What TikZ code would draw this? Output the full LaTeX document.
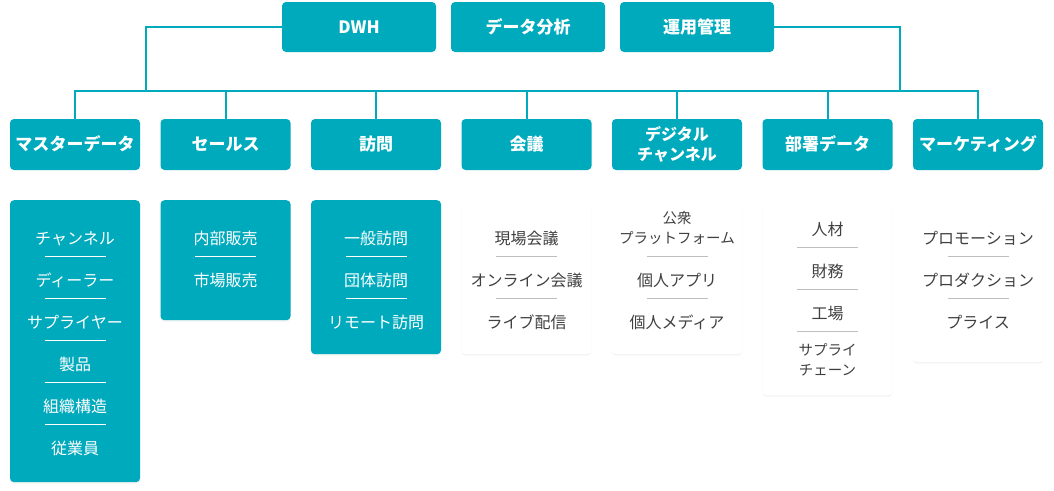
\documentclass[tikz,border=0pt]{standalone}
\usepackage{fontspec}
\newfontfamily\jp{Noto Sans CJK JP}
\usetikzlibrary{shadows}
\definecolor{teal1}{RGB}{0,170,189}
\definecolor{ink}{RGB}{64,64,64}
\definecolor{rule}{RGB}{190,190,190}

\begin{document}
\begin{tikzpicture}[x=1pt, y=-1pt,
    top/.style={fill=teal1, text=white, rounded corners=4pt, minimum width=154pt, minimum height=50pt,
      font=\jp\bfseries\fontsize{17}{20}\selectfont, text height=13.4pt, text depth=0.5pt},
    head/.style={fill=teal1, text=white, rounded corners=4pt, minimum width=130pt, minimum height=51pt,
      align=center, font=\jp\bfseries\fontsize{17}{20}\selectfont, text height=13.4pt, text depth=0.5pt},
    twohead/.style={head, font=\jp\bfseries\fontsize{16}{20}\selectfont, text height=32.6pt},
    box/.style={rounded corners=4pt, minimum width=130pt, anchor=north,
      drop shadow={shadow xshift=0pt, shadow yshift=-1.5pt, opacity=0.09}},
    tealbox/.style={box, fill=teal1},
    whitebox/.style={box, fill=white},
    item/.style={text=white, align=center, font=\jp\fontsize{16}{19.5}\selectfont, text height=12.6pt, text depth=0.4pt},
    gitem/.style={item, text=ink},
    small/.style={font=\jp\fontsize{14.5}{19.5}\selectfont, text height=30.9pt, text depth=0.4pt},
    tdiv/.style={draw=white, line width=1pt},
    gdiv/.style={draw=rule, line width=1pt},
    link/.style={draw=teal1, line width=2pt}]
  \useasboundingbox (0,0) rectangle (1054,490);

  % top row
  \node[top] (dwh) at (359,27) {DWH};
  \node[top] (ana) at (528,27) {データ分析};
  \node[top] (ops) at (697,27) {運用管理};

  % headers
  \node[head] (h1) at (75,144.5) {マスターデータ};
  \node[head] (h2) at (225.5,144.5) {セールス};
  \node[head] (h3) at (376,144.5) {訪問};
  \node[head] (h4) at (526.5,144.5) {会議};
  \node[twohead] (h5) at (677,144.5) {デジタル\\チャンネル};
  \node[head] (h6) at (827.5,144.5) {部署データ};
  \node[head] (h7) at (978,144.5) {マーケティング};

  \coordinate (bus) at (0,91);
  \coordinate (busl) at (146,91);
  \coordinate (busr) at (900,91);

  \draw[link] (dwh.west) -| (busl);
  \draw[link] (ops.east) -| (busr);
  \draw[link] (h1.north) -- (h1.north |- bus) -- (h7.north |- bus) -- (h7.north);
  \draw[link] (h2.north |- bus) -- (h2.north);
  \draw[link] (h3.north |- bus) -- (h3.north);
  \draw[link] (h4.north |- bus) -- (h4.north);
  \draw[link] (h5.north |- bus) -- (h5.north);
  \draw[link] (h6.north |- bus) -- (h6.north);

  % lists
  \node[tealbox, minimum height=282pt] (b1) at (75,200) {};
  \node[tealbox, minimum height=120pt] (b2) at (225.5,200) {};
  \node[tealbox, minimum height=154pt] (b3) at (376,200) {};
  \node[whitebox, minimum height=154pt] (b4) at (526.5,200) {};
  \node[whitebox, minimum height=154pt] (b5) at (677,200) {};
  \node[whitebox, minimum height=195pt] (b6) at (827.5,200) {};
  \node[whitebox, minimum height=162pt] (b7) at (978,200) {};

  \node[item] (m1) at (75,238) {チャンネル};
  \node[item] (m2) at (75,280) {ディーラー};
  \node[item] (m3) at (75,322) {サプライヤー};
  \node[item] (m4) at (75,364) {製品};
  \node[item] (m5) at (75,406) {組織構造};
  \node[item] (m6) at (75,448) {従業員};
  \draw[tdiv] (44.5,256) -- (105.5,256);
  \draw[tdiv] (44.5,298) -- (105.5,298);
  \draw[tdiv] (44.5,340) -- (105.5,340);
  \draw[tdiv] (44.5,382) -- (105.5,382);
  \draw[tdiv] (44.5,424) -- (105.5,424);

  \node[item] (s1) at (225.5,238) {内部販売};
  \node[item] (s2) at (225.5,280) {市場販売};
  \draw[tdiv] (195,256) -- (256,256);

  \node[item] (v1) at (376,238) {一般訪問};
  \node[item] (v2) at (376,280) {団体訪問};
  \node[item] (v3) at (376,322) {リモート訪問};
  \draw[tdiv] (345.5,256) -- (406.5,256);
  \draw[tdiv] (345.5,298) -- (406.5,298);

  \node[gitem] (k1) at (526.5,238) {現場会議};
  \node[gitem] (k2) at (526.5,280) {オンライン会議};
  \node[gitem] (k3) at (526.5,322) {ライブ配信};
  \draw[gdiv] (496,256) -- (557,256);
  \draw[gdiv] (496,298) -- (557,298);

  \node[gitem, small] (d1) at (677,228) {公衆\\プラットフォーム};
  \node[gitem] (d2) at (677,280) {個人アプリ};
  \node[gitem] (d3) at (677,322) {個人メディア};
  \draw[gdiv] (646.5,256) -- (707.5,256);
  \draw[gdiv] (646.5,298) -- (707.5,298);

  \node[gitem] (p1) at (827.5,229) {人材};
  \node[gitem] (p2) at (827.5,271) {財務};
  \node[gitem] (p3) at (827.5,313) {工場};
  \node[gitem, small] (p4) at (827.5,360) {サプライ\\チェーン};
  \draw[gdiv] (797,247) -- (858,247);
  \draw[gdiv] (797,289) -- (858,289);
  \draw[gdiv] (797,331) -- (858,331);

  \node[gitem] (g1) at (978,238) {プロモーション};
  \node[gitem] (g2) at (978,280) {プロダクション};
  \node[gitem] (g3) at (978,322) {プライス};
  \draw[gdiv] (947.5,256) -- (1008.5,256);
  \draw[gdiv] (947.5,298) -- (1008.5,298);
\end{tikzpicture}
\end{document}
